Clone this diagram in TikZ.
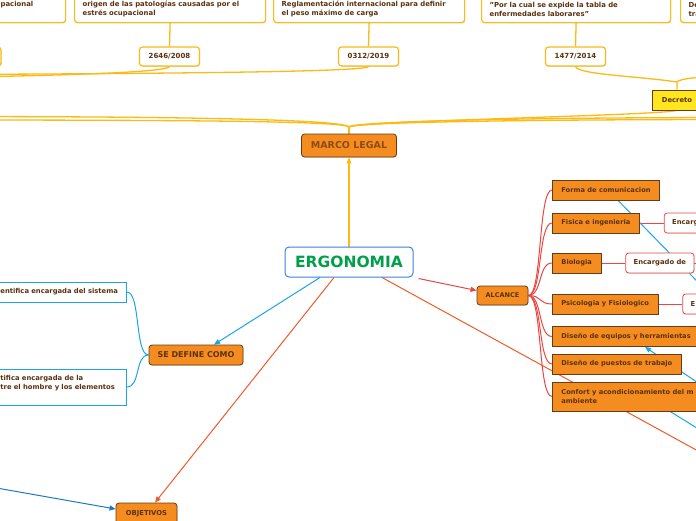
\documentclass[tikz,border=0pt]{standalone}
\usepackage{fontspec}
\setmainfont{DejaVu Sans}
\usepackage{tikz}
\usetikzlibrary{positioning,arrows.meta,backgrounds,shadows}
\definecolor{lawyellow}{RGB}{251,186,20}
\definecolor{boxorange}{RGB}{245,140,32}
\definecolor{boxbrown}{RGB}{100,60,25}
\definecolor{textbrown}{RGB}{90,50,15}
\definecolor{marcotext}{RGB}{140,75,20}
\definecolor{decyellow}{RGB}{255,230,30}
\definecolor{ergogreen}{RGB}{0,160,75}
\definecolor{ergoblue}{RGB}{60,130,220}
\definecolor{blueline}{RGB}{25,165,230}
\definecolor{darkblueline}{RGB}{30,120,190}
\definecolor{redline}{RGB}{235,70,65}
\definecolor{orangeline}{RGB}{240,90,40}

\begin{document}
\begin{tikzpicture}[x=1pt, y=-1pt, node distance=24pt,
    soft_shadow/.style={drop shadow={shadow xshift=0.6pt, shadow yshift=-0.8pt, opacity=0.25}},
    law_box/.style={draw=lawyellow, line width=1.2pt, rounded corners=3pt, fill=white, align=left, text width=175pt, inner xsep=8pt, minimum height=27pt, anchor=north west, font=\bfseries\fontsize{6.9}{9}\selectfont, text=textbrown, soft_shadow},
    code_box/.style={draw=lawyellow, line width=1.2pt, rounded corners=3pt, fill=white, minimum width=60pt, minimum height=19pt, font=\bfseries\fontsize{7}{8}\selectfont, text=textbrown, soft_shadow},
    hub_box/.style={draw=boxbrown, fill=boxorange, line width=0.8pt, rounded corners=3pt, text=textbrown, soft_shadow},
    item_box/.style={draw=boxbrown, fill=boxorange, line width=0.8pt, anchor=west, inner xsep=9pt, minimum height=20pt, align=left, font=\bfseries\fontsize{6.7}{9}\selectfont, text=textbrown, soft_shadow},
    enc_box/.style={draw=redline, line width=0.8pt, rounded corners=3pt, fill=white, minimum height=20pt, inner xsep=8pt, font=\bfseries\fontsize{6.8}{8}\selectfont, text=textbrown, soft_shadow},
    def_box/.style={draw=blueline, line width=0.8pt, fill=white, anchor=west, inner xsep=8pt, text width=118pt, align=left, font=\bfseries\fontsize{6.8}{9}\selectfont, text=textbrown, soft_shadow},
    yline/.style={draw=lawyellow, line width=1.3pt},
    blue_line/.style={draw=blueline, line width=1pt},
    red_line/.style={draw=redline, line width=1pt},
    orange_line/.style={draw=orangeline, line width=1pt},
    tip/.style={-{Triangle[length=6pt,width=5pt]}}]
    \useasboundingbox (0,0) rectangle (696,520);
    \clip (0,0) rectangle (696,520);

    \node[law_box, text width=57pt, minimum height=36pt] (law_a) at (-8,-14) {pacional};
    \node[law_box] (law_b) at (74,-5) {origen de las patologías causadas por el\\estrés ocupacional};
    \node[law_box] (law_c) at (273,-5) {Reglamentación internacional para definir\\el peso máximo de carga};
    \node[law_box, text width=173pt] (law_d) at (481,-5) {"Por la cual se expide la tabla de\\enfermedades laborares"};
    \node[law_box, text width=60pt] (law_e) at (680,-5) {De\\tra};

    \node[code_box] (code_0) at (-29,56.5) {};
    \node[code_box] (code_2646) at (169.5,56.5) {2646/2008};
    \node[code_box] (code_0312) at (368.5,56.5) {0312/2019};
    \node[code_box] (code_1477) at (575.5,56.5) {1477/2014};
    \node[draw=boxbrown, fill=decyellow, line width=0.8pt, minimum width=50pt, minimum height=20pt, font=\bfseries\fontsize{6.8}{8}\selectfont, text=textbrown, soft_shadow] (decreto) at (677,100) {Decreto};

    \node[hub_box, minimum width=95pt, minimum height=23pt, font=\bfseries\fontsize{9.5}{11}\selectfont, text=marcotext] (marco) at (349,145.5) {MARCO LEGAL};
    \node[draw=ergoblue, line width=1pt, rounded corners=4pt, fill=white, minimum width=128pt, minimum height=30pt, text=ergogreen, font=\bfseries\fontsize{15.5}{18}\selectfont] (ergo) at (349,262) {ERGONOMIA};
    \node[hub_box, minimum width=51pt, minimum height=19pt, font=\bfseries\fontsize{6.5}{8}\selectfont] (alcance) at (502.5,295.5) {ALCANCE};
    \node[hub_box, minimum width=94pt, minimum height=20pt, font=\bfseries\fontsize{8}{10}\selectfont] (sedef) at (196,355) {SE DEFINE COMO};
    \node[hub_box, minimum width=61pt, minimum height=22pt, font=\bfseries\fontsize{6.8}{8}\selectfont] (objetivos) at (146.5,514) {OBJETIVOS};

    \node[item_box] (forma) at (552,190) {Forma de comunicacion};
    \node[item_box] (fisica) at (552,223) {Fisica e ingenieria};
    \node[item_box] (biologia) at (552,263) {Biologia};
    \node[item_box] (psico) at (552,304) {Psicologia y Fisiologico};
    \node[item_box] (equipos) at (552,336.5) {Diseño de equipos y herramientas};
    \node[item_box] (puestos) at (552,364) {Diseño de puestos de trabajo};
    \node[item_box, minimum height=29pt] (confort) at (552,396.5) {Confort y acondicionamiento del m\\ambiente};

    \node[enc_box, text width=44pt, align=left, right=of fisica] (enc_fis) {Encarg};
    \node[enc_box, right=of biologia] (enc_bio) {Encargado de};
    \node[enc_box, text width=44pt, align=left, right=of psico] (enc_psi) {E};

    \node[def_box, minimum height=20pt] (def_1) at (-8,292) {entifica encargada del sistema};
    \node[def_box, minimum height=36pt] (def_2) at (-8,387) {tifica encargada de la\\tre el hombre y los elementos\\\mbox{}};

    \coordinate (dfork) at (677,82);
    \coordinate (mfork) at (349,127);
    \coordinate (off_l1) at (-60,77.5);
    \coordinate (off_l2) at (-60,74.5);
    \coordinate (off_dec) at (740,76);
    \coordinate (off_m1) at (-60,116.5);
    \coordinate (off_m2) at (-60,120);
    \coordinate (off_m3) at (740,117.5);
    \coordinate (off_m4) at (740,119.5);
    \coordinate (off_ergo) at (760,485);
    \coordinate (off_forma) at (760,345.5);
    \coordinate (off_equipos) at (760,425);
    \coordinate (off_confort) at (760,467);
    \coordinate (off_obj) at (-60,478);
    \coordinate (off_bio) at (740,263);

    \begin{pgfonlayer}{background}
    \clip (0,0) rectangle (696,520);
    \draw[yline] (law_b.south) -- (code_2646.north);
    \draw[yline] (law_c.south) -- (code_0312.north);
    \draw[yline] (law_d.south) -- (code_1477.north);
    \draw[yline] (code_2646.south) .. controls +(-4,6) and +(120,-2) .. (off_l1);
    \draw[yline] (code_0312.south) .. controls +(-4,5) and +(250,-1) .. (off_l2);
    \draw[yline] (code_1477.south) .. controls +(3,8) and +(-40,-6) .. (dfork) -- (decreto.north);
    \draw[yline] (dfork) .. controls +(4,-5) and +(-20,0) .. (off_dec);
    \draw[yline] (marco.north) -- (mfork);
    \draw[yline] (mfork) .. controls +(-4,-6) and +(300,0) .. (off_m1);
    \draw[yline] (mfork) .. controls +(-4,-5) and +(300,0) .. (off_m2);
    \draw[yline] (mfork) .. controls +(5,-6) and +(-200,0) .. (off_m3);
    \draw[yline] (mfork) .. controls +(5,-5) and +(-200,0) .. (off_m4);
    \draw[yline] (mfork) .. controls +(5,-6) and +(-15,5) .. (decreto.south);
    \draw[yline, tip] (ergo.north) -- (marco.south);

    \draw[blue_line, tip] ([xshift=-29pt]ergo.south) -- ([xshift=18pt]sedef.north);
    \draw[orange_line, tip] ([xshift=-15pt]ergo.south) -- ([xshift=8.5pt]objetivos.north);
    \draw[red_line, tip] ([xshift=5pt,yshift=-1pt]ergo.south east) -- ([yshift=5pt]alcance.west);
    \draw[orange_line] ([xshift=33pt]ergo.south) -- (off_ergo);
    \draw[draw=darkblueline, line width=1pt, tip] (off_obj) -- ([yshift=5pt]objetivos.west);

    \foreach \itm in {forma,fisica,biologia,psico,equipos,puestos,confort}
        \draw[red_line] (alcance.east) .. controls +(14,0) and +(-14,0) .. (\itm.west);
    \foreach \dn in {def_1,def_2}
        \draw[blue_line] (sedef.west) .. controls +(-14,0) and +(14,0) .. (\dn.east);

    \draw[red_line] (fisica) -- (enc_fis);
    \draw[red_line] (biologia) -- (enc_bio);
    \draw[red_line] (psico) -- (enc_psi);
    \draw[red_line] (enc_bio) -- (off_bio);

    \draw[blue_line] ([xshift=66pt]forma.south west) -- (off_forma);
    \draw[blue_line, tip] (off_equipos) -- ([xshift=93pt]equipos.south west);
    \draw[blue_line] ([xshift=118pt]confort.south west) -- (off_confort);
    \end{pgfonlayer}
\end{tikzpicture}
\end{document}
